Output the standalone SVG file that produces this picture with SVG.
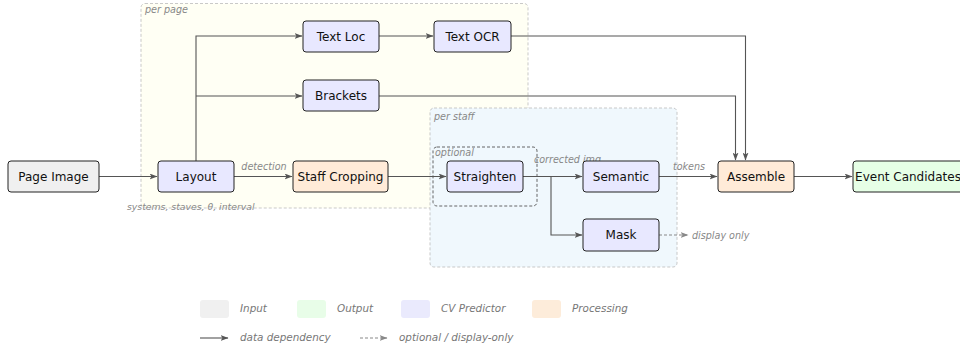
<svg xmlns="http://www.w3.org/2000/svg" width="960" height="349" viewBox="0 0 960 349">
<defs>
<marker id="arr" viewBox="0 0 8 6" refX="7.5" refY="3" markerWidth="8" markerHeight="6" markerUnits="userSpaceOnUse" orient="auto">
<path d="M0,0 L8,3 L0,6 L2,3 z" fill="#555"/>
</marker>
<marker id="arrd" viewBox="0 0 8 6" refX="7.5" refY="3" markerWidth="8" markerHeight="6" markerUnits="userSpaceOnUse" orient="auto">
<path d="M0,0 L8,3 L0,6 L2,3 z" fill="#888"/>
</marker>
</defs>
<style>
.node rect{stroke:#222;stroke-width:1;}
.node text{font-family:"DejaVu Sans",sans-serif;font-size:12px;fill:#111;text-anchor:middle;dominant-baseline:central;}
.in{fill:#f0f0f0}.out{fill:#e6ffe6}.cv{fill:#e8e8ff}.proc{fill:#ffebd8}
.lbl{font-family:"DejaVu Sans",sans-serif;font-size:9.6px;font-style:italic;fill:#888;}
.edge{fill:none;stroke:#555;stroke-width:1.1;marker-end:url(#arr);}
.dash{fill:none;stroke:#888;stroke-width:1;stroke-dasharray:3,2;marker-end:url(#arrd);}
.grp{stroke:#bbb;stroke-width:0.8;stroke-dasharray:3,2;}
.leg{font-family:"DejaVu Sans",sans-serif;font-size:10.4px;font-style:italic;fill:#777;}
</style>
<rect width="960" height="349" fill="#fff"/>
<g id="group-per-page">
<rect class="grp" x="141" y="3.5" width="387" height="204.5" rx="4" fill="#fffff4"/>
<text class="lbl" x="145" y="13">per page</text>
</g>
<g id="group-per-staff">
<rect class="grp" x="430" y="108" width="247" height="159" rx="4" fill="#f0f8fd"/>
<text class="lbl" x="434" y="120">per staff</text>
</g>
<g id="group-optional">
<rect x="433" y="147" width="104" height="59" rx="4" fill="none" stroke="#555" stroke-width="0.9" stroke-dasharray="3,2"/>
<text class="lbl" x="435" y="156">optional</text>
</g>
<g id="connectors">
<path class="edge" d="M99,176.5 H157"/>
<path class="edge" d="M234,176.5 H292"/>
<path class="edge" d="M196,161 V36 H302"/>
<path class="edge" d="M196,96 H302"/>
<path class="edge" d="M379,36 H433"/>
<path class="edge" d="M511,36 H745.5 V160"/>
<path class="edge" d="M379,96 H735.5 V160"/>
<path class="edge" d="M388,176.5 H446"/>
<path class="edge" d="M523,176.5 H582"/>
<path class="edge" d="M551,176.5 V235 H582"/>
<path class="edge" d="M659,176.5 H717"/>
<path class="dash" d="M659,235 H688"/>
<path class="edge" d="M794,176.5 H852"/>
<text class="lbl" x="264" y="170" text-anchor="middle">detection</text>
<text class="lbl" x="567.5" y="162.5" text-anchor="middle">corrected img</text>
<text class="lbl" x="689" y="170" text-anchor="middle">tokens</text>
<text class="lbl" x="692" y="238.5">display only</text>
<text class="lbl" x="127" y="210" style="font-size:9.3px">systems, staves, θ, interval</text>
</g>
<g id="node-page-image" class="node"><rect class="in" x="8" y="161" width="91" height="31" rx="3"/><text x="53.5" y="176.5">Page Image</text></g>
<g id="node-layout" class="node"><rect class="cv" x="158" y="161" width="76" height="31" rx="3"/><text x="196" y="176.5">Layout</text></g>
<g id="node-staff-cropping" class="node"><rect class="proc" x="293" y="161" width="95" height="31" rx="3"/><text x="340.5" y="176.5">Staff Cropping</text></g>
<g id="node-text-loc" class="node"><rect class="cv" x="303" y="21" width="76" height="31" rx="3"/><text x="341" y="36.5">Text Loc</text></g>
<g id="node-text-ocr" class="node"><rect class="cv" x="434" y="21" width="77" height="31" rx="3"/><text x="472.5" y="36.5">Text OCR</text></g>
<g id="node-brackets" class="node"><rect class="cv" x="303" y="80" width="76" height="31" rx="3"/><text x="341" y="95.5">Brackets</text></g>
<g id="node-straighten" class="node"><rect class="cv" x="447" y="161" width="76" height="31" rx="3"/><text x="485" y="176.5">Straighten</text></g>
<g id="node-semantic" class="node"><rect class="cv" x="583" y="161" width="76" height="31" rx="3"/><text x="621" y="176.5">Semantic</text></g>
<g id="node-mask" class="node"><rect class="cv" x="583" y="219" width="76" height="32" rx="3"/><text x="621" y="235">Mask</text></g>
<g id="node-assemble" class="node"><rect class="proc" x="718" y="161" width="76" height="31" rx="3"/><text x="756" y="176.5">Assemble</text></g>
<g id="node-event-candidates" class="node"><rect class="out" x="853" y="161" width="112" height="31" rx="3"/><text x="908" y="176.5">Event Candidates</text></g>
<g id="legend">
<rect x="200" y="300" width="29" height="18" rx="3" fill="#f0f0f0"/>
<text class="leg" x="240" y="312">Input</text>
<rect x="297" y="300" width="29" height="18" rx="3" fill="#e8fde8"/>
<text class="leg" x="337" y="312">Output</text>
<rect x="401" y="300" width="29" height="18" rx="3" fill="#eaeafd"/>
<text class="leg" x="441" y="312">CV Predictor</text>
<rect x="532" y="300" width="29" height="18" rx="3" fill="#fdecda"/>
<text class="leg" x="572" y="312">Processing</text>
<path d="M200,338 H228" stroke="#555" stroke-width="1.1" fill="none" marker-end="url(#arr)"/>
<text class="leg" x="240" y="341">data dependency</text>
<path d="M360,338 H387" stroke="#888" stroke-width="1" stroke-dasharray="3,2" fill="none" marker-end="url(#arrd)"/>
<text class="leg" x="399" y="341">optional / display-only</text>
</g>
</svg>
